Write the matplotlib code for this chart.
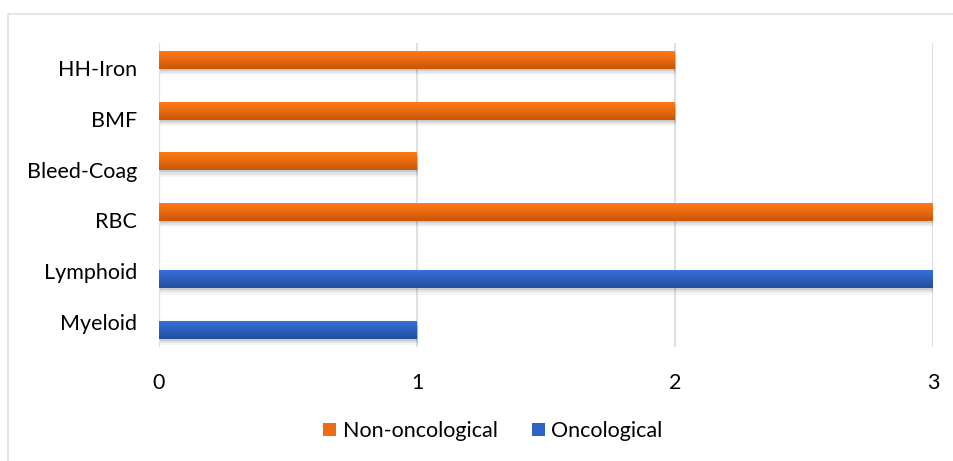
import numpy as np
import matplotlib
matplotlib.use("Agg")
import matplotlib.pyplot as plt
from matplotlib.patches import Rectangle, Patch
from matplotlib.colors import LinearSegmentedColormap
import matplotlib.patheffects as pe

plt.rcParams['font.family'] = ['Lato', 'DejaVu Sans']

categories = ["Myeloid", "Lymphoid", "RBC", "Bleed-Coag", "BMF", "HH-Iron"]
non_oncological = [0, 0, 3, 1, 2, 2]
oncological = [1, 3, 0, 0, 0, 0]
x_ticks = [0, 1, 2, 3]

W, H = 954, 461
fig = plt.figure(figsize=(W / 100, H / 100), dpi=100)
ax = fig.add_axes([159 / W, 1 - 347 / H, (933 - 159) / W, (347 - 43) / H])

y = np.arange(len(categories))
bar_h = 0.355
off = 0.163

shadow = [pe.SimplePatchShadow(offset=(0.5, -1.5), shadow_rgbFace="#000000", alpha=0.10),
          pe.SimplePatchShadow(offset=(0.8, -3.0), shadow_rgbFace="#000000", alpha=0.07),
          pe.SimplePatchShadow(offset=(1.0, -4.5), shadow_rgbFace="#000000", alpha=0.04),
          pe.Normal()]

orange_cmap = LinearSegmentedColormap.from_list("o", ["#C45709", "#E8680F", "#FF7A18"])
blue_cmap = LinearSegmentedColormap.from_list("b", ["#244E9E", "#2C5FBE", "#3470D6"])

def gradient_bars(values, ypos, cmap, face):
    bars = ax.barh(ypos, values, height=bar_h, color=face, zorder=3)
    grad = np.linspace(0, 1, 64).reshape(-1, 1)
    for b, v in zip(bars, values):
        if v <= 0:
            b.set_visible(False)
            continue
        b.set_path_effects(shadow)
        x0, y0 = b.get_x(), b.get_y()
        im = ax.imshow(grad, cmap=cmap, aspect="auto", origin="lower",
                       extent=(x0, x0 + b.get_width(), y0, y0 + b.get_height()),
                       zorder=4, interpolation="bilinear")
        im.set_clip_path(b)
    return bars

gradient_bars(non_oncological, y + off, orange_cmap, "#E8680F")
gradient_bars(oncological, y - off, blue_cmap, "#2C5FBE")

fs = 15.5
ax.set_xlim(0, 3)
ax.set_ylim(-0.5, len(categories) - 0.5)
ax.set_xticks(x_ticks)
ax.set_xticklabels([str(t) for t in x_ticks])
ax.set_yticks(y)
ax.set_yticklabels(categories)
ax.tick_params(axis="both", length=0, labelsize=fs, colors="#000000")
ax.tick_params(axis="y", pad=16)
ax.tick_params(axis="x", pad=19)

for s in ["top", "right", "bottom", "left"]:
    ax.spines[s].set_visible(False)
ax.xaxis.grid(True, color="#DCE0E8", linewidth=1.5, zorder=0)
ax.set_axisbelow(True)
ax.axvline(0, color="#DCE0E8", linewidth=1.5, zorder=1)

handles = [Patch(facecolor="#EE6D14", label="Non-oncological"),
           Patch(facecolor="#2E63C6", label="Oncological")]
fig.legend(handles=handles, loc="center", bbox_to_anchor=(493 / W, 1 - 431 / H),
           ncol=2, frameon=False, fontsize=fs, handlelength=0.6, handleheight=0.6,
           handletextpad=0.3, columnspacing=1.6)

fig.add_artist(Rectangle((8 / W, -0.1), 1.2, 1.1 - 14 / H, transform=fig.transFigure,
                         fill=False, edgecolor="#DCE0E6", linewidth=1.2))

fig.savefig("out.png", dpi=100)
